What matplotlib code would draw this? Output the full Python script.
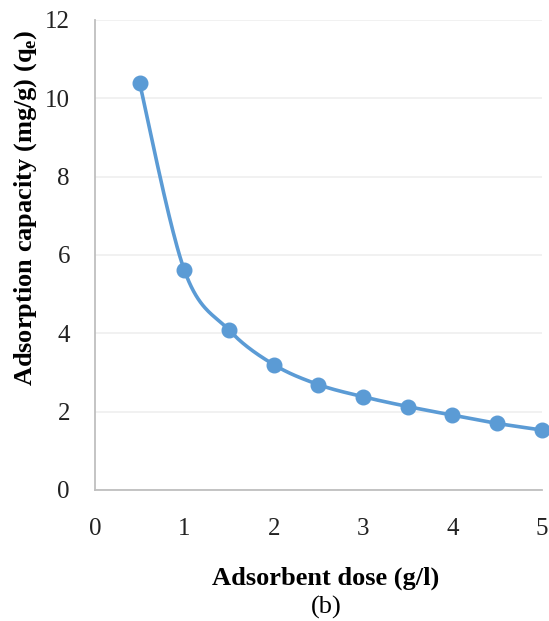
import numpy as np
import matplotlib
matplotlib.use("Agg")
import matplotlib.pyplot as plt

dose = [0.5, 1.0, 1.5, 2.0, 2.5, 3.0, 3.5, 4.0, 4.5, 5.0]
capacity = [10.38, 5.61, 4.08, 3.20, 2.69, 2.38, 2.13, 1.91, 1.70, 1.53]
x_ticks = [0, 1, 2, 3, 4, 5]
y_ticks = [0, 2, 4, 6, 8, 10, 12]

BLUE = "#5B9BD5"

plt.rcParams["font.family"] = ["Liberation Serif", "DejaVu Serif"]
plt.rcParams["mathtext.fontset"] = "custom"
plt.rcParams["mathtext.rm"] = "Liberation Serif"
plt.rcParams["mathtext.bf"] = "Liberation Serif:bold"


def smooth_curve(xs, ys, n=40):
    """Excel-style smoothed line: cubic Bezier segments with Catmull-Rom control points"""
    xs = np.asarray(xs, float)
    ys = np.asarray(ys, float)
    px = np.concatenate([[xs[0]], xs, [xs[-1]]])
    py = np.concatenate([[ys[0]], ys, [ys[-1]]])
    out_x, out_y = [], []
    t = np.linspace(0, 1, n)
    for i in range(1, len(px) - 2):
        p0 = np.array([px[i], py[i]])
        p3 = np.array([px[i + 1], py[i + 1]])
        c1 = p0 + (np.array([px[i + 1], py[i + 1]]) - np.array([px[i - 1], py[i - 1]])) / 6
        c2 = p3 - (np.array([px[i + 2], py[i + 2]]) - np.array([px[i], py[i]])) / 6
        b = ((1 - t) ** 3)[:, None] * p0 + (3 * (1 - t) ** 2 * t)[:, None] * c1 \
            + (3 * (1 - t) * t ** 2)[:, None] * c2 + (t ** 3)[:, None] * p3
        out_x.extend(b[:, 0])
        out_y.extend(b[:, 1])
    return out_x, out_y


fig = plt.figure(figsize=(5.49, 6.21), dpi=100)
ax = fig.add_axes([0.173, 0.211, 0.814, 0.757])

sx, sy = smooth_curve(dose, capacity)
ax.plot(sx, sy, color=BLUE, lw=2.6, zorder=3)
ax.plot(dose, capacity, "o", color=BLUE, markersize=10.5, zorder=4, clip_on=False)

ax.set_xlim(0, 5)
ax.set_ylim(0, 12)
ax.set_xticks(x_ticks)
ax.set_yticks(y_ticks)
ax.grid(axis="y", color="#EFEFEF", lw=1.2, zorder=0)
ax.set_axisbelow(True)

for side in ["top", "right"]:
    ax.spines[side].set_visible(False)
for side in ["left", "bottom"]:
    ax.spines[side].set_color("#BFBFBF")
    ax.spines[side].set_linewidth(1.3)

ax.tick_params(axis="both", length=0, labelsize=18, colors="#222222")
ax.tick_params(axis="y", pad=18)
ax.tick_params(axis="x", pad=20)

# axis titles sit where the original placed them (not centred on the axes)
fig.text(0.047, 0.665, "Adsorption capacity (mg/g) (q$_\\mathbf{e}$)", fontsize=19,
         fontweight="bold", rotation=90, ha="center", va="center")
fig.text(0.594, 0.069, "Adsorbent dose (g/l)", fontsize=19, fontweight="bold",
         ha="center", va="center")
fig.text(0.594, 0.022, "(b)", fontsize=19, ha="center", va="center")

fig.savefig("out.png", dpi=100)
